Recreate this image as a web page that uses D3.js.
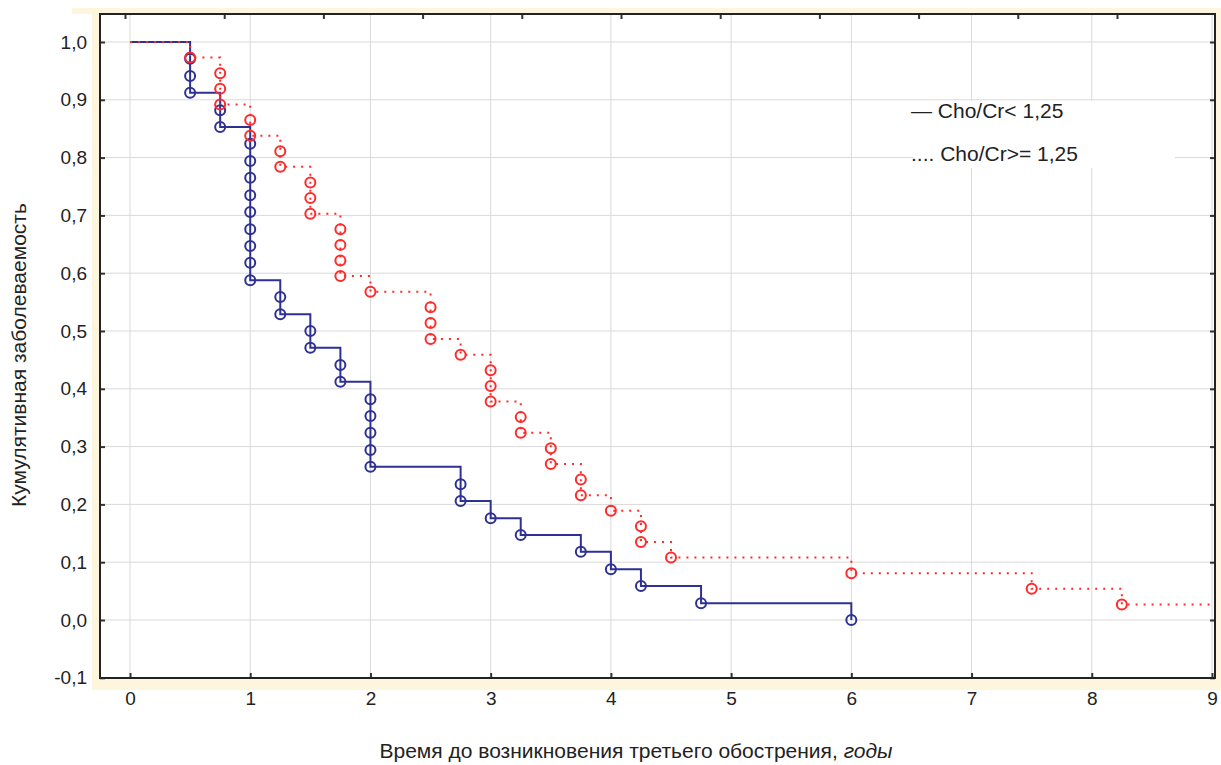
<!DOCTYPE html>
<html>
  <head>
    <meta charset="utf-8">
    <script type="text/javascript" src="https://cdn.jsdelivr.net/npm/d3@7"></script>
    <title></title>
    <style>
      body { margin: 0; background: #fff; }
      text { font-family: "Liberation Sans", Arial, sans-serif; fill: #222; }
    </style>
  </head>
  <body>
    <div id="body"></div>
    <script type="text/javascript">
    // Cho/Cr < 1,25 (solid line)
    var blueTimes = [0.5, 0.5, 0.5, 0.75, 0.75, 1, 1, 1, 1, 1, 1, 1, 1, 1,
                     1.25, 1.25, 1.5, 1.5, 1.75, 1.75, 2, 2, 2, 2, 2,
                     2.75, 2.75, 3, 3.25, 3.75, 4, 4.25, 4.75, 6];
    var blueValues = [0.971, 0.941, 0.912, 0.882, 0.853, 0.824, 0.794, 0.765, 0.735, 0.706,
                      0.676, 0.647, 0.618, 0.588, 0.559, 0.529, 0.5, 0.471, 0.441, 0.412,
                      0.382, 0.353, 0.324, 0.294, 0.265, 0.235, 0.206, 0.176, 0.147, 0.118,
                      0.088, 0.059, 0.029, 0.0];
    // Cho/Cr >= 1,25 (dotted line)
    var redTimes = [0.5, 0.75, 0.75, 0.75, 1, 1, 1.25, 1.25, 1.5, 1.5, 1.5,
                    1.75, 1.75, 1.75, 1.75, 2, 2.5, 2.5, 2.5, 2.75, 3, 3, 3,
                    3.25, 3.25, 3.5, 3.5, 3.75, 3.75, 4, 4.25, 4.25, 4.5, 6, 7.5, 8.25];
    var redValues = [0.973, 0.946, 0.919, 0.892, 0.865, 0.838, 0.811, 0.784, 0.757, 0.730,
                     0.703, 0.676, 0.649, 0.622, 0.595, 0.568, 0.541, 0.514, 0.486, 0.459,
                     0.432, 0.405, 0.378, 0.351, 0.324, 0.297, 0.270, 0.243, 0.216, 0.189,
                     0.162, 0.135, 0.108, 0.081, 0.054, 0.027];
    var redEnd = 9.02;

    var xTicks = [0, 1, 2, 3, 4, 5, 6, 7, 8, 9];
    var yTicks = [-0.1, 0, 0.1, 0.2, 0.3, 0.4, 0.5, 0.6, 0.7, 0.8, 0.9, 1.0];
    var topTicks = [0, 1, 2, 3, 4, 5, 6, 7, 8, 9, 10];
    var legendLabels = ["\u2014 Cho/Cr< 1,25", ".... Cho/Cr>= 1,25"];

    var w = 1221, h = 765;
    var blue = "#2e3192", red = "#ff2a2a";

    var svg = d3.select("#body").append("svg")
        .attr("width", w).attr("height", h);

    var x = d3.scaleLinear().domain([0, 9]).range([130, 1212]);
    var y = d3.scaleLinear().domain([0, 1]).range([620, 42]);
    var xTop = d3.scaleLinear().domain([0, 10]).range([125, 1117]);
    var plotL = 100, plotR = 1215, plotT = 14, plotB = 678;

    // cream surround
    svg.append("rect").attr("x", 92).attr("y", 8).attr("width", w - 92).attr("height", 682).attr("fill", "#fdf6dc");
    svg.append("rect").attr("x", 72).attr("y", 8).attr("width", 20).attr("height", 6).attr("fill", "#fdf6dc");
    svg.append("rect").attr("x", plotL).attr("y", plotT).attr("width", plotR - plotL).attr("height", plotB - plotT).attr("fill", "#fff");

    // grid
    svg.append("g").selectAll("line").data(xTicks).enter().append("line")
        .attr("x1", function(d) { return x(d); }).attr("x2", function(d) { return x(d); })
        .attr("y1", plotT).attr("y2", plotB)
        .attr("stroke", "#d9d9d9").attr("stroke-width", 1);
    svg.append("g").selectAll("line").data(yTicks).enter().append("line")
        .attr("x1", plotL).attr("x2", plotR)
        .attr("y1", function(d) { return y(d); }).attr("y2", function(d) { return y(d); })
        .attr("stroke", "#d9d9d9").attr("stroke-width", 1);

    // legend
    svg.append("rect").attr("x", 913).attr("y", 101).attr("width", 262).attr("height", 67).attr("fill", "#fff");
    svg.append("g").selectAll("text").data(legendLabels).enter().append("text")
        .attr("x", 911).attr("y", function(d, i) { return 118 + i * 43; })
        .style("font-size", "21px")
        .text(function(d) { return d; });

    var fmt = function(d) { return d3.format(".1f")(d).replace(".", ",").replace("\u2212", "-"); };

    // axes
    svg.append("g").attr("transform", "translate(0," + plotB + ")")
        .call(d3.axisBottom(x).tickValues(xTicks).tickSize(-5).tickPadding(14).tickFormat(d3.format("d")))
        .call(function(g) { g.select(".domain").remove(); g.selectAll("text").style("font-size", "19px").attr("fill", "#222"); g.selectAll("line").attr("stroke", "#333").attr("stroke-width", 2); });
    svg.append("g").attr("transform", "translate(" + plotL + ",0)")
        .call(d3.axisLeft(y).tickValues(yTicks).tickSize(-5).tickPadding(13).tickFormat(fmt))
        .call(function(g) { g.select(".domain").remove(); g.selectAll("text").style("font-size", "19px").attr("fill", "#222"); g.selectAll("line").attr("stroke", "#333").attr("stroke-width", 2); });
    svg.append("g").attr("transform", "translate(" + plotR + ",0)")
        .call(d3.axisRight(y).tickValues(yTicks).tickSize(-5).tickFormat(""))
        .call(function(g) { g.select(".domain").remove(); g.selectAll("line").attr("stroke", "#333").attr("stroke-width", 2); });
    svg.append("g").attr("transform", "translate(0," + plotT + ")")
        .call(d3.axisTop(xTop).tickValues(topTicks).tickSize(-5).tickFormat(""))
        .call(function(g) { g.select(".domain").remove(); g.selectAll("line").attr("stroke", "#333").attr("stroke-width", 2); });

    // step curves
    var blueData = [{t: 0, v: 1}].concat(blueTimes.map(function(t, i) { return {t: t, v: blueValues[i]}; }));
    var redData = [{t: 0, v: 1}].concat(redTimes.map(function(t, i) { return {t: t, v: redValues[i]}; }));
    redData.push({t: redEnd, v: redValues[redValues.length - 1]});

    var step = d3.line().curve(d3.curveStepAfter)
        .x(function(d) { return x(d.t); }).y(function(d) { return y(d.v); });

    svg.append("path").datum(blueData).attr("d", step)
        .attr("fill", "none").attr("stroke", blue).attr("stroke-width", 2);
    svg.append("path").datum(redData).attr("d", step)
        .attr("fill", "none").attr("stroke", red).attr("stroke-width", 2)
        .attr("stroke-dasharray", "2,6");

    svg.append("g").selectAll("circle").data(blueData.slice(1)).enter().append("circle")
        .attr("cx", function(d) { return x(d.t); }).attr("cy", function(d) { return y(d.v); })
        .attr("r", 5).attr("fill", "none").attr("stroke", blue).attr("stroke-width", 2);
    svg.append("g").selectAll("circle").data(redData.slice(1, redData.length - 1)).enter().append("circle")
        .attr("cx", function(d) { return x(d.t); }).attr("cy", function(d) { return y(d.v); })
        .attr("r", 5).attr("fill", "none").attr("stroke", red).attr("stroke-width", 2);

    // frame
    svg.append("rect").attr("x", plotL).attr("y", plotT).attr("width", plotR - plotL).attr("height", plotB - plotT)
        .attr("fill", "none").attr("stroke", "#222").attr("stroke-width", 2);

    // axis titles
    var xt = svg.append("text").attr("x", 636).attr("y", 758).attr("text-anchor", "middle").style("font-size", "21px");
    xt.append("tspan").text("Время до возникновения третьего обострения, ");
    xt.append("tspan").style("font-style", "italic").text("годы");
    svg.append("text").attr("transform", "translate(26,355) rotate(-90)").attr("text-anchor", "middle")
        .style("font-size", "21px").text("Кумулятивная заболеваемость");
    </script>
  </body>
</html>
